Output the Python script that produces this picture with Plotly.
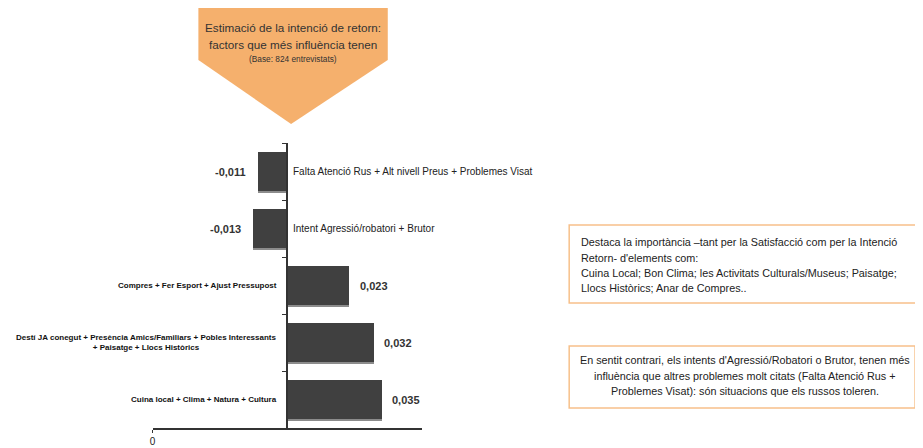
import plotly.graph_objects as go

W, H = 923, 448
OFF_X, OFF_Y = 10, 8  # page body margin, pixel positions are shifted back by it

# data
categories = [
    "Falta Atenció Rus + Alt nivell Preus + Problemes Visat",
    "Intent Agressió/robatori + Brutor",
    "Compres + Fer Esport + Ajust Pressupost",
    "Destí JA conegut + Presència Amics/Familiars + Pobles Interessants<br>+ Paisatge + Llocs Històrics",
    "Cuina local + Clima + Natura + Cultura",
]
values = [-0.011, -0.013, 0.023, 0.032, 0.035]
value_labels = ["-0,011", "-0,013", "0,023", "0,032", "0,035"]
x_tick_vals = [-0.05]
x_tick_text = ["0"]

title_lines = ["Estimació de la intenció de retorn:", "factors que més influència tenen"]
title_base = "(Base: 824 entrevistats)"
note1_lines = [
    "Destaca la importància –tant per la Satisfacció com per la Intenció",
    "Retorn- d'elements com:",
    "Cuina Local; Bon Clima; les Activitats Culturals/Museus; Paisatge;",
    "Llocs Històrics; Anar de Compres..",
]
note2_lines = [
    "En sentit contrari, els intents d'Agressió/Robatori o Brutor, tenen més",
    "influència que altres problemes molt citats (Falta Atenció Rus +",
    "Problemes Visat): són situacions que els russos toleren.",
]

FONT = "Arial, Liberation Sans, sans-serif"
ORANGE = "#F5B06D"
BORDER = "#F7C08A"


def px(x):
    return (x - OFF_X) / W


def py(y):
    return 1 - (y - OFF_Y) / H


pos = list(range(len(categories)))

fig = go.Figure()
# thin grey shadow under each bar
fig.add_trace(go.Bar(
    x=values, y=[p + 0.04 for p in pos], orientation="h", width=0.68,
    marker=dict(color="#8c8c8c", line=dict(width=0)), hoverinfo="skip",
))
fig.add_trace(go.Bar(
    x=values, y=pos, orientation="h", width=0.68,
    marker=dict(color="#404040", line=dict(width=0)),
))

for p, cat, v, lab in zip(pos, categories, values, value_labels):
    if v < 0:
        fig.add_annotation(x=0, y=p, text=cat, showarrow=False, xanchor="left",
                           xshift=4, font=dict(family=FONT, size=10, color="#222"))
        fig.add_annotation(x=v, y=p, text="<b>%s</b>" % lab, showarrow=False,
                           xanchor="right", xshift=-9,
                           font=dict(family=FONT, size=11, color="#333"))
    else:
        fig.add_annotation(x=0, y=p, text="<b>%s</b>" % cat, showarrow=False,
                           xanchor="right", xshift=-8, align="center",
                           font=dict(family=FONT, size=8, color="#111"))
        fig.add_annotation(x=v, y=p, text="<b>%s</b>" % lab, showarrow=False,
                           xanchor="left", xshift=9,
                           font=dict(family=FONT, size=11, color="#333"))

# orange arrow with title
arrow = "M {} {} L {} {} L {} {} L {} {} L {} {} Z".format(
    px(198), py(5), px(388), py(5), px(388), py(60), px(291), py(124), px(198), py(60))
fig.add_shape(type="path", path=arrow, xref="paper", yref="paper",
              fillcolor=ORANGE, line=dict(width=0), layer="below")
for line, yy in zip(title_lines, [28, 44]):
    fig.add_annotation(xref="paper", yref="paper", x=px(293), y=py(yy), text=line,
                       showarrow=False, xanchor="center", yanchor="middle",
                       font=dict(family=FONT, size=11.7, color="#333"))
fig.add_annotation(xref="paper", yref="paper", x=px(293), y=py(59), text=title_base,
                   showarrow=False, xanchor="center", yanchor="middle",
                   font=dict(family=FONT, size=8.3, color="#333"))

# note boxes
fig.add_shape(type="rect", xref="paper", yref="paper",
              x0=px(570), x1=px(921), y0=py(303), y1=py(225),
              line=dict(color=BORDER, width=1.5), fillcolor="white")
for line, yy in zip(note1_lines, [242, 258, 273, 288]):
    fig.add_annotation(xref="paper", yref="paper", x=px(580), y=py(yy), text=line,
                       showarrow=False, xanchor="left", yanchor="middle",
                       font=dict(family=FONT, size=10.8, color="#222"))
fig.add_shape(type="rect", xref="paper", yref="paper",
              x0=px(570), x1=px(917), y0=py(408), y1=py(346),
              line=dict(color=BORDER, width=1.5), fillcolor="white")
for line, yy in zip(note2_lines, [360, 376, 391]):
    fig.add_annotation(xref="paper", yref="paper", x=px(746), y=py(yy), text=line,
                       showarrow=False, xanchor="center", yanchor="middle",
                       font=dict(family=FONT, size=10.8, color="#222"))

fig.update_layout(
    width=W, height=H,
    margin=dict(l=0, r=0, t=0, b=0),
    paper_bgcolor="white", plot_bgcolor="rgba(0,0,0,0)",
    showlegend=False, barmode="overlay", bargap=0,
    xaxis=dict(domain=[px(152), px(422)], range=[-0.05, 0.05],
               showgrid=False, zeroline=False, showline=True,
               linecolor="#333", linewidth=1.5,
               tickvals=x_tick_vals, ticktext=x_tick_text,
               ticks="outside", ticklen=3, tickcolor="#333",
               tickfont=dict(family=FONT, size=10, color="#222")),
    yaxis=dict(domain=[py(428), py(143)], range=[4.5, -0.5],
               anchor="free", position=px(287),
               showgrid=False, zeroline=False, showline=True,
               linecolor="#333", linewidth=1.5,
               tickvals=[-0.5, 0.5, 1.5, 2.5, 3.5, 4.5], ticktext=[""] * 6,
               ticks="outside", ticklen=4, tickcolor="#333"),
)

fig.write_html("out.html")
